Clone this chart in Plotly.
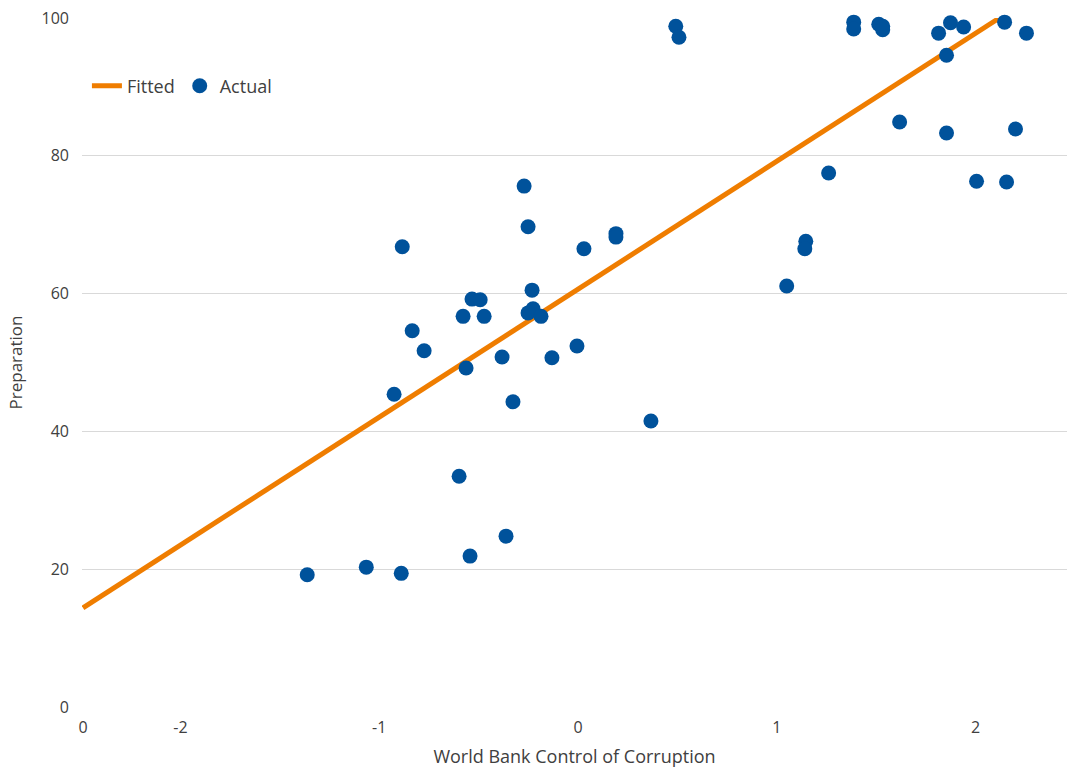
import plotly.graph_objects as go

# Country observations: control of corruption score vs. preparation score
corruption = [
    -1.362, -1.065, -0.889, -0.543, -0.362, -0.598, -0.925, -0.884, -0.834, -0.774,
    -0.578, -0.563, -0.533, -0.492, -0.472, -0.382, -0.327, -0.271, -0.251, -0.231,
    -0.226, -0.251, -0.186, -0.131, -0.005, 0.030, 0.191, 0.191, 0.367, 0.492,
    0.508, 1.050, 1.146, 1.141, 1.261, 1.387, 1.387, 1.513, 1.533, 1.533,
    1.618, 1.814, 1.874, 1.940, 1.854, 1.854, 2.005, 2.146, 2.201, 2.156, 2.256,
]
preparation = [
    19.2, 20.3, 19.4, 21.9, 24.8, 33.5, 45.4, 66.8, 54.6, 51.7,
    56.7, 49.2, 59.2, 59.1, 56.7, 50.8, 44.3, 75.6, 69.7, 60.5,
    57.8, 57.2, 56.7, 50.7, 52.4, 66.5, 68.7, 68.2, 41.5, 98.8,
    97.2, 61.1, 67.6, 66.5, 77.5, 99.4, 98.4, 99.1, 98.8, 98.3,
    84.9, 97.8, 99.3, 98.7, 94.6, 83.3, 76.3, 99.4, 83.9, 76.2, 97.8,
]

# Regression line end points
fit_x = [-2.49, 2.12]
fit_y = [14.4, 100.0]

# Axis ticks
x_tickvals = [-2.49, -2, -1, 0, 1, 2]
x_ticktext = ["0", "-2", "-1", "0", "1", "2"]
y_tickvals = [0, 20, 40, 60, 80, 100]

FONT = "Open Sans"
TEXT = "#404040"

fig = go.Figure()
fig.add_trace(go.Scatter(
    x=fit_x, y=fit_y, mode="lines", name="Fitted",
    line=dict(color="#EF7D00", width=5),
    cliponaxis=False,
))
fig.add_trace(go.Scatter(
    x=corruption, y=preparation, mode="markers", name="Actual",
    marker=dict(color="#00529B", size=15, line=dict(width=0)),
    cliponaxis=False,
))

fig.update_layout(
    width=1067, height=768,
    margin=dict(l=82, r=0, t=18, b=61),
    paper_bgcolor="white", plot_bgcolor="white",
    font=dict(family=FONT, color=TEXT, size=16),
    showlegend=True,
    legend=dict(
        orientation="h", x=0.005, y=0.928, xanchor="left", yanchor="top",
        font=dict(size=18, color=TEXT), bgcolor="rgba(0,0,0,0)",
        itemwidth=30, tracegroupgap=0,
    ),
    xaxis=dict(
        range=[-2.495, 2.46], tickmode="array",
        tickvals=x_tickvals, ticktext=x_ticktext,
        showgrid=False, zeroline=False, showline=False,
        ticks="", tickfont=dict(size=16, color=TEXT), ticklabelstandoff=9,
        title=dict(text="World Bank Control of Corruption",
                   font=dict(size=18, color=TEXT), standoff=14),
    ),
    yaxis=dict(
        range=[0, 100], tickmode="array", tickvals=y_tickvals,
        showgrid=True, gridcolor="#d9d9d9", gridwidth=1,
        zeroline=False, showline=False, ticks="",
        tickfont=dict(size=16, color=TEXT), ticklabelstandoff=12,
        title=dict(text="Preparation", font=dict(size=17, color=TEXT), standoff=14),
    ),
)

fig.write_html("out.html")
